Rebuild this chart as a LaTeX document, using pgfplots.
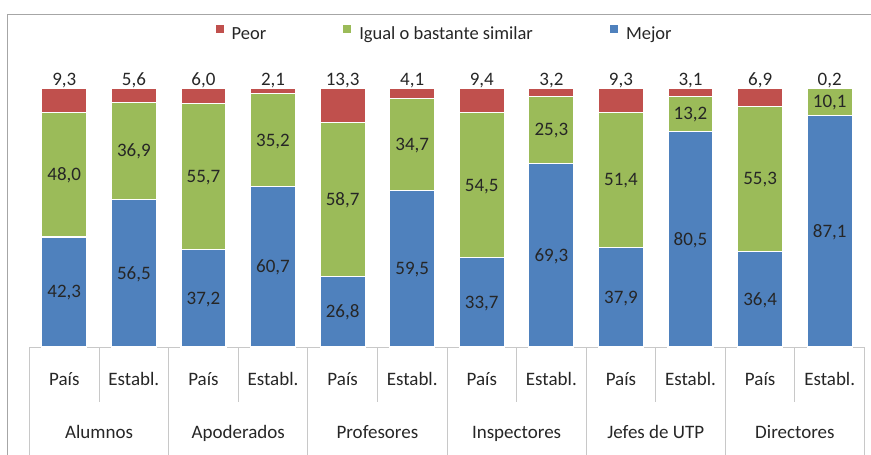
\documentclass[border=0pt]{standalone}
\usepackage{fontspec}
\setmainfont{Carlito}
\usepackage{pgfplots}
\usepackage{pgfplotstable}
\pgfplotsset{compat=1.18}
\definecolor{cPeor}{HTML}{C0504D}
\definecolor{cIgual}{HTML}{9BBB59}
\definecolor{cMejor}{HTML}{4F81BD}
\definecolor{cGrid}{HTML}{C8C8C8}
\definecolor{cFrame}{HTML}{A6A6A6}
\definecolor{cText}{HTML}{262626}

% m = Mejor, i = Igual o bastante similar, p = Peor
\pgfplotstableread{
x m i p
0 42.3 48.0 9.3
1 56.5 36.9 5.6
2 37.2 55.7 6.0
3 60.7 35.2 2.1
4 26.8 58.7 13.3
5 59.5 34.7 4.1
6 33.7 54.5 9.4
7 69.3 25.3 3.2
8 37.9 51.4 9.3
9 80.5 13.2 3.1
10 36.4 55.3 6.9
11 87.1 10.1 0.2
}\datatable

\pgfplotsset{
  base/.style={at={(29.5pt,-347pt)}, anchor=south west, scale only axis,
    width=835pt, height=259pt, xmin=-0.5, xmax=11.5, ymin=0, ymax=100, clip=false},
  barstyle/.style={draw=white, line width=1.1pt},
  lbl/.style={only marks, mark=*, mark size=0pt, mark options={draw=none, fill=none},
    point meta=explicit,
    nodes near coords={\pgfmathprintnumber{\pgfplotspointmeta}},
    every node near coord/.append style={anchor=base, text=cText, inner sep=0pt,
      font=\fontsize{19}{23}\selectfont, #1}},
}

\begin{document}
\fontsize{19}{23}\selectfont
\begin{tikzpicture}
\useasboundingbox (0pt,0pt) rectangle (871pt,-455pt);
\draw[cFrame, line width=1.2pt] (7.7pt,-470pt) -- (7.7pt,-14.7pt) -- (890pt,-14.7pt);

\begin{axis}[base, ybar stacked, bar width=45pt,
  axis x line*=bottom, axis y line=none,
  x axis line style={cGrid, line width=1pt, -},
  xtick={0,...,11},
  xticklabels={País,Establ.,País,Establ.,País,Establ.,País,Establ.,País,Establ.,País,Establ.},
  major tick length=0pt,
  xticklabel style={anchor=base, yshift=-38pt, text=cText, font=\fontsize{19}{23}\selectfont},
]
\addplot[barstyle, fill=cMejor] table[x=x, y expr={\thisrow{m}*100/(\thisrow{m}+\thisrow{i}+\thisrow{p})}]{\datatable};
\addplot[barstyle, fill=cIgual] table[x=x, y expr={\thisrow{i}*100/(\thisrow{m}+\thisrow{i}+\thisrow{p})}]{\datatable};
\addplot[barstyle, fill=cPeor] table[x=x, y expr={\thisrow{p}*100/(\thisrow{m}+\thisrow{i}+\thisrow{p})}]{\datatable};

\pgfplotsinvokeforeach{-0.5,1.5,3.5,5.5,7.5,9.5,11.5}{
  \draw[cGrid, line width=1pt] (axis cs:#1,0) -- ++(0pt,-120pt);
}
\pgfplotsinvokeforeach{0.5,2.5,4.5,6.5,8.5,10.5}{
  \draw[cGrid, line width=1pt] (axis cs:#1,0) -- ++(0pt,-55pt);
}
\node[anchor=base, text=cText, yshift=-91pt] at (axis cs:0.5,0) {Alumnos};
\node[anchor=base, text=cText, yshift=-91pt] at (axis cs:2.5,0) {Apoderados};
\node[anchor=base, text=cText, yshift=-91pt] at (axis cs:4.5,0) {Profesores};
\node[anchor=base, text=cText, yshift=-91pt] at (axis cs:6.5,0) {Inspectores};
\node[anchor=base, text=cText, yshift=-91pt] at (axis cs:8.5,0) {Jefes de UTP};
\node[anchor=base, text=cText, yshift=-91pt] at (axis cs:10.5,0) {Directores};
\end{axis}

\begin{axis}[base, hide axis,
  /pgf/number format/use comma, /pgf/number format/fixed,
  /pgf/number format/fixed zerofill, /pgf/number format/precision=1,
  /pgf/number format/assume math mode=true,
  legend columns=3,
  legend style={at={(0.496,1.2085)}, anchor=center, draw=none, fill=none,
    font=\fontsize{18.5}{22}\selectfont, text=cText,
    nodes={inner sep=0pt},
    /tikz/every odd column/.append style={column sep=8pt},
    /tikz/every even column/.append style={column sep=77pt}},
  legend image code/.code={\fill[#1] (0pt,1.5pt) rectangle (8pt,9.5pt);},
]
\addlegendimage{fill=cPeor, draw=none}
\addlegendentry{Peor}
\addlegendimage{fill=cIgual, draw=none}
\addlegendentry{Igual o bastante similar}
\addlegendimage{fill=cMejor, draw=none}
\addlegendentry{Mejor}

\addplot[lbl={yshift=-6pt}, forget plot] table[x=x, y expr={\thisrow{m}*50/(\thisrow{m}+\thisrow{i}+\thisrow{p})}, meta=m]{\datatable};
\addplot[lbl={yshift=-6pt}, forget plot] table[x=x, y expr={(\thisrow{m}+\thisrow{i}/2)*100/(\thisrow{m}+\thisrow{i}+\thisrow{p})}, meta=i]{\datatable};
\addplot[lbl={yshift=3pt}, forget plot] table[x=x, y expr={100}, meta=p]{\datatable};
\end{axis}
\end{tikzpicture}
\end{document}
